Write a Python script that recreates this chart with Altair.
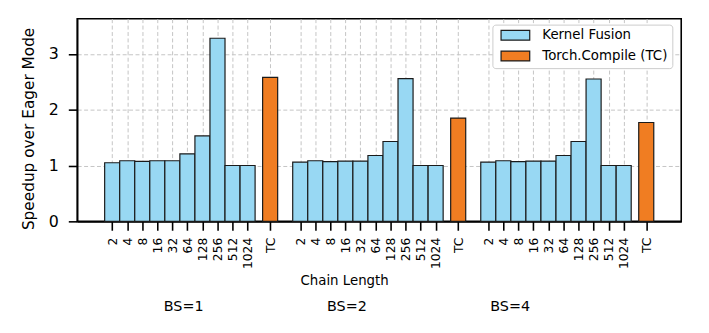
import altair as alt
import pandas as pd

groups = ["BS=1", "BS=2", "BS=4"]
chain_lengths = ["2", "4", "8", "16", "32", "64", "128", "256", "512", "1024"]
kf_bs1 = [1.05, 1.085, 1.075, 1.085, 1.085, 1.21, 1.53, 3.28, 1.0, 1.0]
kf_bs2 = [1.06, 1.085, 1.07, 1.08, 1.08, 1.18, 1.43, 2.555, 1.0, 1.0]
kf_bs4 = [1.06, 1.085, 1.07, 1.08, 1.08, 1.18, 1.43, 2.55, 1.0, 1.0]
tc_values = [2.58, 1.85, 1.77]
series_names = ["Kernel Fusion", "Torch.Compile (TC)"]
series_colors = ["#98D8F3", "#F07D22"]

# layout (positions in bar units)
GROUP_STEP = 12.5
TC_OFFSET = 10.5
group_label_pos = [4.75, 15.6, 26.45]

rows = []
positions = []
for g, (name, vals) in enumerate(zip(groups, [kf_bs1, kf_bs2, kf_bs4])):
    for i, (c, v) in enumerate(zip(chain_lengths, vals)):
        p = g * GROUP_STEP + i
        positions.append(p)
        rows.append(dict(x0=p - 0.5, x1=p + 0.5, base=0.0, value=v, series=series_names[0], label=c, group=name))
    p = g * GROUP_STEP + TC_OFFSET
    positions.append(p)
    rows.append(dict(x0=p - 0.5, x1=p + 0.5, base=0.0, value=tc_values[g], series=series_names[1], label="TC", group=name))
df = pd.DataFrame(rows)
df_groups = pd.DataFrame({"label": groups, "x0": group_label_pos})

arr = "[" + ",".join("'%s'" % c for c in chain_lengths) + "]"
label_expr = f"datum.value % {GROUP_STEP} == {TC_OFFSET} ? 'TC' : {arr}[datum.value % {GROUP_STEP}]"

xscale = alt.Scale(domain=[-2.325, 37.825], nice=False, zero=False)
FONT = "DejaVu Sans"

x_axis = alt.Axis(values=positions, labelExpr=label_expr, labelAngle=270,
                  labelAlign="right", labelBaseline="middle", labelFontSize=12.5,
                  labelPadding=7, labelOverlap=False, labelBound=False, labelFlush=False,
                  title="Chain Length", titleFontSize=13.5,
                  titleFontWeight="normal", titleX=270, titleY=60,
                  titleBaseline="middle", titleAlign="center", titleAnchor="start")

bars = alt.Chart(df).mark_bar(stroke="#1a1a1a", strokeWidth=1.2, opacity=1).encode(
    x=alt.X("x0:Q", scale=xscale, axis=x_axis),
    x2="x1:Q",
    y=alt.Y("value:Q", scale=alt.Scale(domain=[0, 3.63], nice=False),
            axis=alt.Axis(values=[0, 1, 2, 3], format="d", labelFontSize=16, labelPadding=10,
                          title="Speedup over Eager Mode", titleFontSize=15.5,
                          titleFontWeight="normal", titleX=-49, titleY=111, titleAngle=270,
                          titleBaseline="middle", titleAlign="center", titleAnchor="start")),
    y2="base:Q",
    color=alt.Color("series:N", scale=alt.Scale(domain=series_names, range=series_colors),
                    legend=alt.Legend(title=None, orient="none", legendX=420, legendY=6,
                                      symbolType="M-2.9,-1H2.9V1H-2.9Z", symbolSize=100,
                                      symbolOffset=12.5,
                                      symbolStrokeColor="#1a1a1a", symbolStrokeWidth=1.2,
                                      symbolOpacity=1,
                                      labelFontSize=13.5, labelFont=FONT, labelColor="black",
                                      padding=4, rowPadding=5, labelOffset=20.5,
                                      strokeColor="#cccccc", fillColor="white", cornerRadius=3)),
)

group_text = alt.Chart(df_groups).mark_text(fontSize=14.5, font=FONT, baseline="middle",
                                             align="center", color="black").encode(
    x=alt.X("x0:Q", scale=xscale, axis=x_axis),
    y=alt.value(291.5),
    text="label:N",
)

chart = alt.layer(bars, group_text).properties(
    width=611, height=205,
    autosize=alt.AutoSizeParams(type="none"),
    padding={"left": 70, "top": 9, "right": 20, "bottom": 100},
).configure(font=FONT).configure_view(
    stroke="black", strokeWidth=1.6
).configure_axis(
    zindex=1, domainColor="black", domainWidth=1.6, tickColor="black", tickSize=9,
    tickWidth=1.6, labelColor="black", titleColor="black", labelFont=FONT, titleFont=FONT,
    grid=True, gridColor="#c4c4c4", gridDash=[4, 2.5], gridWidth=1, labelOverlap=False,
)

chart.save("out.html", embed_options={"renderer": "svg", "actions": False})
